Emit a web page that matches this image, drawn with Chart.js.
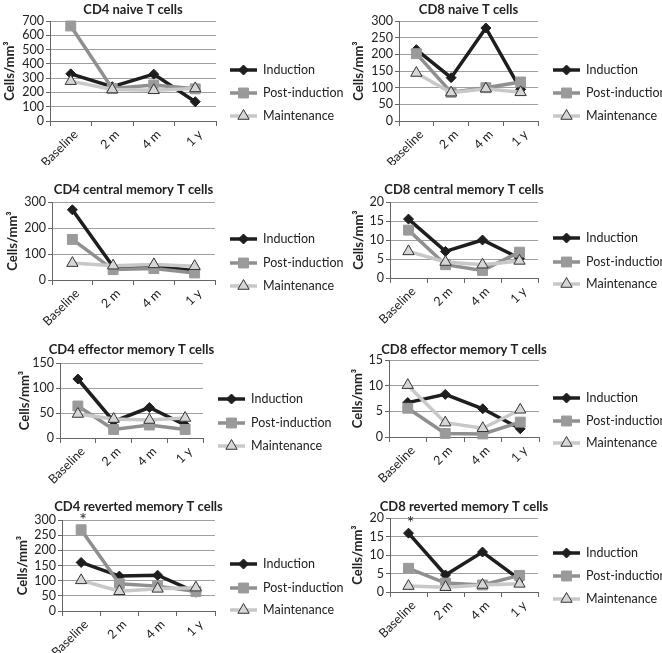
<!DOCTYPE html>
<html><head><meta charset="utf-8">
<script src="https://cdn.jsdelivr.net/npm/chart.js@4/dist/chart.umd.min.js"></script>
<style>
html,body{margin:0;padding:0;background:#fff;}
#wrap{position:relative;width:662px;height:653px;overflow:hidden;background:#fff;}
canvas{position:absolute;}
</style></head><body><div id="wrap"></div>
<script>
// ---- data ----
const timepoints = ['Baseline', '2 m', '4 m', '1 y'];
const seriesNames = ['Induction', 'Post-induction', 'Maintenance'];

const cd4NaiveInduction = [330, 240, 328, 135];
const cd4NavePost = [665, 228, 252, 225];
const cd4NaiveMaint = [279, 220, 215, 228];

const cd8NaiveInduction = [214, 130, 279, 95];
const cd8NaivePost = [202, 86, 100, 117];
const cd8NaiveMaint = [144, 85, 97, 86];

const cd4CentralInduction = [270, 51, 54, 36];
const cd4CentralPost = [156, 40, 44, 27];
const cd4CentralMaint = [65, 55, 60, 53];

const cd8CentralInduction = [15.5, 7, 10, 5.2];
const cd8CentralPost = [12.6, 3.5, 2.0, 6.8];
const cd8CentralMaint = [7, 4.2, 3.5, 4.5];

const cd4EffectorInduction = [118, 33, 61, 26];
const cd4EffectorPost = [64, 17, 26, 17];
const cd4EffectorMaint = [48, 38, 36, 40];

const cd8EffectorInduction = [6.7, 8.3, 5.5, 1.6];
const cd8EffectorPost = [5.6, 0.7, 0.6, 2.9];
const cd8EffectorMaint = [10.1, 2.8, 1.7, 5.3];

const cd4RevertedInduction = [160, 115, 118, 62];
const cd4RevertedPost = [268, 90, 82, 64];
const cd4RevertedMaint = [101, 65, 73, 77];

const cd8RevertedInduction = [15.9, 4.6, 10.8, 3.4];
const cd8RevertedPost = [6.4, 2.4, 1.9, 4.5];
const cd8RevertedMaint = [1.6, 1.3, 1.9, 2.2];

const panelTitles = ['CD4 naive T cells', 'CD8 naive T cells', 'CD4 central memory T cells', 'CD8 central memory T cells',
  'CD4 effector memory T cells', 'CD8 effector memory T cells', 'CD4 reverted memory T cells', 'CD8 reverted memory T cells'];
const yMaxima = [700, 300, 300, 20, 150, 15, 300, 20];
const ySteps = [100, 50, 100, 5, 50, 5, 50, 5];
const panelSeries = [
  [cd4NaiveInduction, cd4NavePost, cd4NaiveMaint],
  [cd8NaiveInduction, cd8NaivePost, cd8NaiveMaint],
  [cd4CentralInduction, cd4CentralPost, cd4CentralMaint],
  [cd8CentralInduction, cd8CentralPost, cd8CentralMaint],
  [cd4EffectorInduction, cd4EffectorPost, cd4EffectorMaint],
  [cd8EffectorInduction, cd8EffectorPost, cd8EffectorMaint],
  [cd4RevertedInduction, cd4RevertedPost, cd4RevertedMaint],
  [cd8RevertedInduction, cd8RevertedPost, cd8RevertedMaint]
];
// significance marks: panel index, series index, category index
const asteriskMarks = [{panel: 6, series: 1, index: 0}, {panel: 7, series: 0, index: 0}];

// ---- layout / style ----
const frames = [
 {x:0,   y:0,   w:362, h:165, l:50, r:216, t:21, b:121, ty:10, ax:10, lg:230, lys:[70,93,116]},
 {x:331, y:0,   w:331, h:165, l:68, r:207, t:21, b:121, ty:10, ax:28, lg:222, lys:[70,93,116]},
 {x:0,   y:165, w:362, h:165, l:52, r:215, t:37, b:115, ty:25, ax:13, lg:230, lys:[74,98,121]},
 {x:331, y:165, w:331, h:165, l:59, r:207, t:37, b:113, ty:25, ax:28, lg:222, lys:[73,97,119]},
 {x:0,   y:330, w:362, h:165, l:60, r:203, t:33, b:108, ty:20, ax:25, lg:218, lys:[69,93,116]},
 {x:331, y:330, w:331, h:165, l:58, r:208, t:30, b:107, ty:20, ax:27, lg:222, lys:[68,91,113]},
 {x:0,   y:495, w:362, h:158, l:62, r:215, t:25, b:116, ty:12, ax:23, lg:230, lys:[69,93,115]},
 {x:331, y:495, w:331, h:158, l:59, r:207, t:23, b:97,  ty:12, ax:27, lg:222, lys:[58,81,104]}
];
const styles = [
  {color:'#1e1e1e', point:'rectRot', r:5, fill:'#1e1e1e', pb:'#1e1e1e', pbw:1},
  {color:'#8f8f8f', point:'rect', r:7, fill:'#9a9a9a', pb:'#9a9a9a', pbw:1},
  {color:'#c8c8c8', point:'triangle', r:6.5, fill:'#d6d6d6', pb:'#333333', pbw:1}
];
const FONT = "Lato, 'Open Sans', sans-serif";
const FS = 12.5;
Chart.defaults.font.family = FONT;
Chart.defaults.font.size = FS;
Chart.defaults.color = '#222';

const decor = {
  id: 'decor',
  afterDraw(chart, args, o) {
    const ctx = chart.ctx, ca = chart.chartArea;
    ctx.save();
    ctx.fillStyle = '#222';
    ctx.font = "bold 13px " + FONT;
    ctx.textAlign = 'center'; ctx.textBaseline = 'middle';
    ctx.fillText(o.title, (ca.left + ca.right) / 2, o.ty);
    chart.data.datasets.forEach((ds, k) => {
      const y = o.lys[k];
      ctx.strokeStyle = ds.borderColor; ctx.lineWidth = ds.borderWidth; ctx.lineCap = 'butt';
      ctx.beginPath(); ctx.moveTo(o.lg, y); ctx.lineTo(o.lg + 27, y); ctx.stroke();
      ctx.fillStyle = ds.pointBackgroundColor; ctx.strokeStyle = ds.pointBorderColor; ctx.lineWidth = ds.pointBorderWidth;
      Chart.helpers.drawPoint(ctx, {pointStyle: ds.pointStyle, radius: ds.pointRadius, borderWidth: ds.pointBorderWidth, rotation: 0}, o.lg + 13.5, y);
      ctx.fillStyle = '#222'; ctx.font = FS + "px " + FONT; ctx.textAlign = 'left';
      ctx.fillText(ds.label, o.lg + 33, y);
    });
    (o.stars || []).forEach(s => {
      const pt = chart.getDatasetMeta(s.series).data[s.index];
      ctx.font = "18px " + FONT; ctx.textAlign = 'center'; ctx.fillStyle = '#222';
      ctx.fillText('*', pt.x + 2, pt.y - 10);
    });
    ctx.restore();
  }
};

const wrap = document.getElementById('wrap');
panelSeries.forEach((series, i) => {
  const f = frames[i];
  const cv = document.createElement('canvas');
  cv.width = f.w; cv.height = f.h;
  cv.style.left = f.x + 'px'; cv.style.top = f.y + 'px';
  cv.style.width = f.w + 'px'; cv.style.height = f.h + 'px';
  wrap.appendChild(cv);
  new Chart(cv, {
    type: 'line',
    data: {
      labels: timepoints,
      datasets: series.map((d, k) => ({
        label: seriesNames[k], data: d,
        borderColor: styles[k].color, backgroundColor: styles[k].fill, borderWidth: 3.5,
        pointStyle: styles[k].point, pointRadius: styles[k].r,
        pointBackgroundColor: styles[k].fill, pointBorderColor: styles[k].pb, pointBorderWidth: styles[k].pbw,
        order: 3 - k, tension: 0, fill: false, clip: false
      }))
    },
    options: {
      responsive: false, animation: false, devicePixelRatio: 1,
      layout: {padding: {left: 0, top: f.t, right: f.w - f.r, bottom: 0}},
      plugins: {
        legend: {display: false}, tooltip: {enabled: false}, title: {display: false},
        decor: {title: panelTitles[i], ty: f.ty, lg: f.lg, lys: f.lys,
          stars: asteriskMarks.filter(a => a.panel === i)}
      },
      scales: {
        x: {
          offset: true,
          grid: {offset: true, drawOnChartArea: false, drawTicks: true, tickLength: 5, tickColor: '#666'},
          border: {color: '#666', width: 1},
          ticks: {minRotation: 45, maxRotation: 45, padding: 1, labelOffset: 5, color: '#222', font: {size: FS}, autoSkip: false},
          afterFit: s => { s.height = f.h - f.b; }
        },
        y: {
          min: 0, max: yMaxima[i],
          ticks: {stepSize: ySteps[i], padding: 2, color: '#222', font: {size: FS}, autoSkip: false},
          grid: {color: '#a0a0a0', tickColor: '#666', tickLength: 4},
          border: {color: '#666'},
          title: {display: true, text: 'Cells/mm³', color: '#222', font: {size: 13, weight: 'bold'},
                  padding: {top: f.ax - 7.8, bottom: 0}},
          afterFit: s => { s.width = f.l; }
        }
      }
    },
    plugins: [decor]
  });
});
</script>
</body></html>
